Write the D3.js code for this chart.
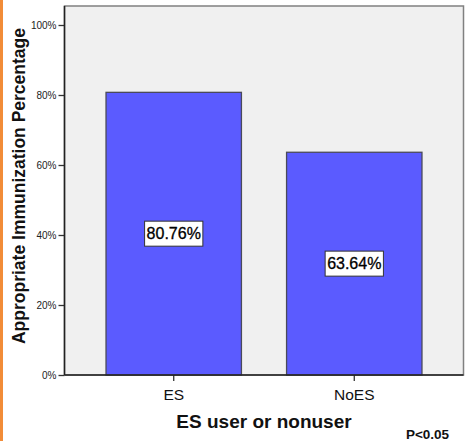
<!DOCTYPE html>
<html><head><meta charset="utf-8">
<script src="https://cdn.jsdelivr.net/npm/d3@7"></script>
<style>body{margin:0;background:#fff}svg{display:block}text{font-family:"Liberation Sans",Arial,sans-serif}</style>
</head><body>
<script>
const categories = ["ES", "NoES"];
const values = [80.76, 63.64];
const valueLabels = ["80.76%", "63.64%"];
const yTicks = [0, 20, 40, 60, 80, 100];
const xTitle = "ES user or nonuser";
const yTitle = "Appropriate Immunization Percentage";
const note = "P<0.05";

const W = 469, H = 441;
const svg = d3.select("body").append("svg").attr("width", W).attr("height", H);

// orange strip at left
svg.append("rect").attr("x", 0).attr("y", 0).attr("width", 3).attr("height", H).attr("fill", "#f28c38");

const L = 64.5, R = 463.5, T = 6, B = 375;
const y = d3.scaleLinear().domain([0, 100]).range([B, 25]);
const x = d3.scaleBand().domain(categories).range([L, R]).paddingInner(0.25).paddingOuter(0.23);

// plot background
svg.append("rect").attr("x", L).attr("y", T).attr("width", R - L).attr("height", B - T)
  .attr("fill", "#f0f0f0").attr("stroke", "#808080").attr("stroke-width", 1.5);

// bars
svg.selectAll("rect.bar").data(values).enter().append("rect").attr("class", "bar")
  .attr("x", (d, i) => x(categories[i]))
  .attr("y", d => y(d))
  .attr("width", x.bandwidth())
  .attr("height", d => B - y(d))
  .attr("fill", "#5b5bff").attr("stroke", "#4a4a5a").attr("stroke-width", 1.3);

// y axis
const yAxis = d3.axisLeft(y).tickValues(yTicks).tickFormat(d => d + "%").tickSize(6).tickPadding(2);
const gy = svg.append("g").attr("transform", `translate(${L},0)`).call(yAxis);
gy.select(".domain").remove();
gy.selectAll(".tick line").attr("stroke", "#333").attr("stroke-width", 1.3);
gy.selectAll(".tick text").attr("font-size", 10).attr("fill", "#222").attr("font-family", '"Liberation Sans",Arial,sans-serif');
svg.append("line").attr("x1", L).attr("x2", L).attr("y1", T).attr("y2", B).attr("stroke", "#222").attr("stroke-width", 1.5);

// x axis
const xAxis = d3.axisBottom(x).tickSize(6).tickPadding(8);
const gx = svg.append("g").attr("transform", `translate(0,${B})`).call(xAxis);
gx.select(".domain").remove();
gx.selectAll(".tick line").attr("stroke", "#333").attr("stroke-width", 1.3);
gx.selectAll(".tick text").attr("font-size", 15.5).attr("fill", "#111").attr("font-family", '"Liberation Sans",Arial,sans-serif');
svg.append("line").attr("x1", L).attr("x2", R).attr("y1", B).attr("y2", B).attr("stroke", "#222").attr("stroke-width", 1.5);

// value labels
values.forEach((v, i) => {
  const cx = x(categories[i]) + x.bandwidth() / 2;
  const cy = (y(v) + B) / 2;
  const g = svg.append("g");
  const t = g.append("text").attr("x", cx).attr("y", cy).attr("text-anchor", "middle")
    .attr("dominant-baseline", "central").attr("font-size", 16).attr("fill", "#000")
    .attr("stroke", "#000").attr("stroke-width", 0.3).text(valueLabels[i]);
  const bb = t.node().getBBox();
  g.insert("rect", "text").attr("x", bb.x - 2).attr("y", cy - 12.5).attr("width", bb.width + 4).attr("height", 25)
    .attr("fill", "#fff").attr("stroke", "#333").attr("stroke-width", 1);
});

// titles
svg.append("text").attr("x", (L + R) / 2).attr("y", 428).attr("text-anchor", "middle")
  .attr("font-size", 19).attr("font-weight", "bold").attr("fill", "#111").text(xTitle);
svg.append("text").attr("transform", "translate(25,186) rotate(-90)").attr("text-anchor", "middle")
  .attr("font-size", 17.5).attr("font-weight", "bold").attr("fill", "#111").text(yTitle);
svg.append("text").attr("x", 427.5).attr("y", 439).attr("text-anchor", "middle")
  .attr("font-size", 13.5).attr("font-weight", "bold").attr("fill", "#111").text(note);
</script>
</body></html>
